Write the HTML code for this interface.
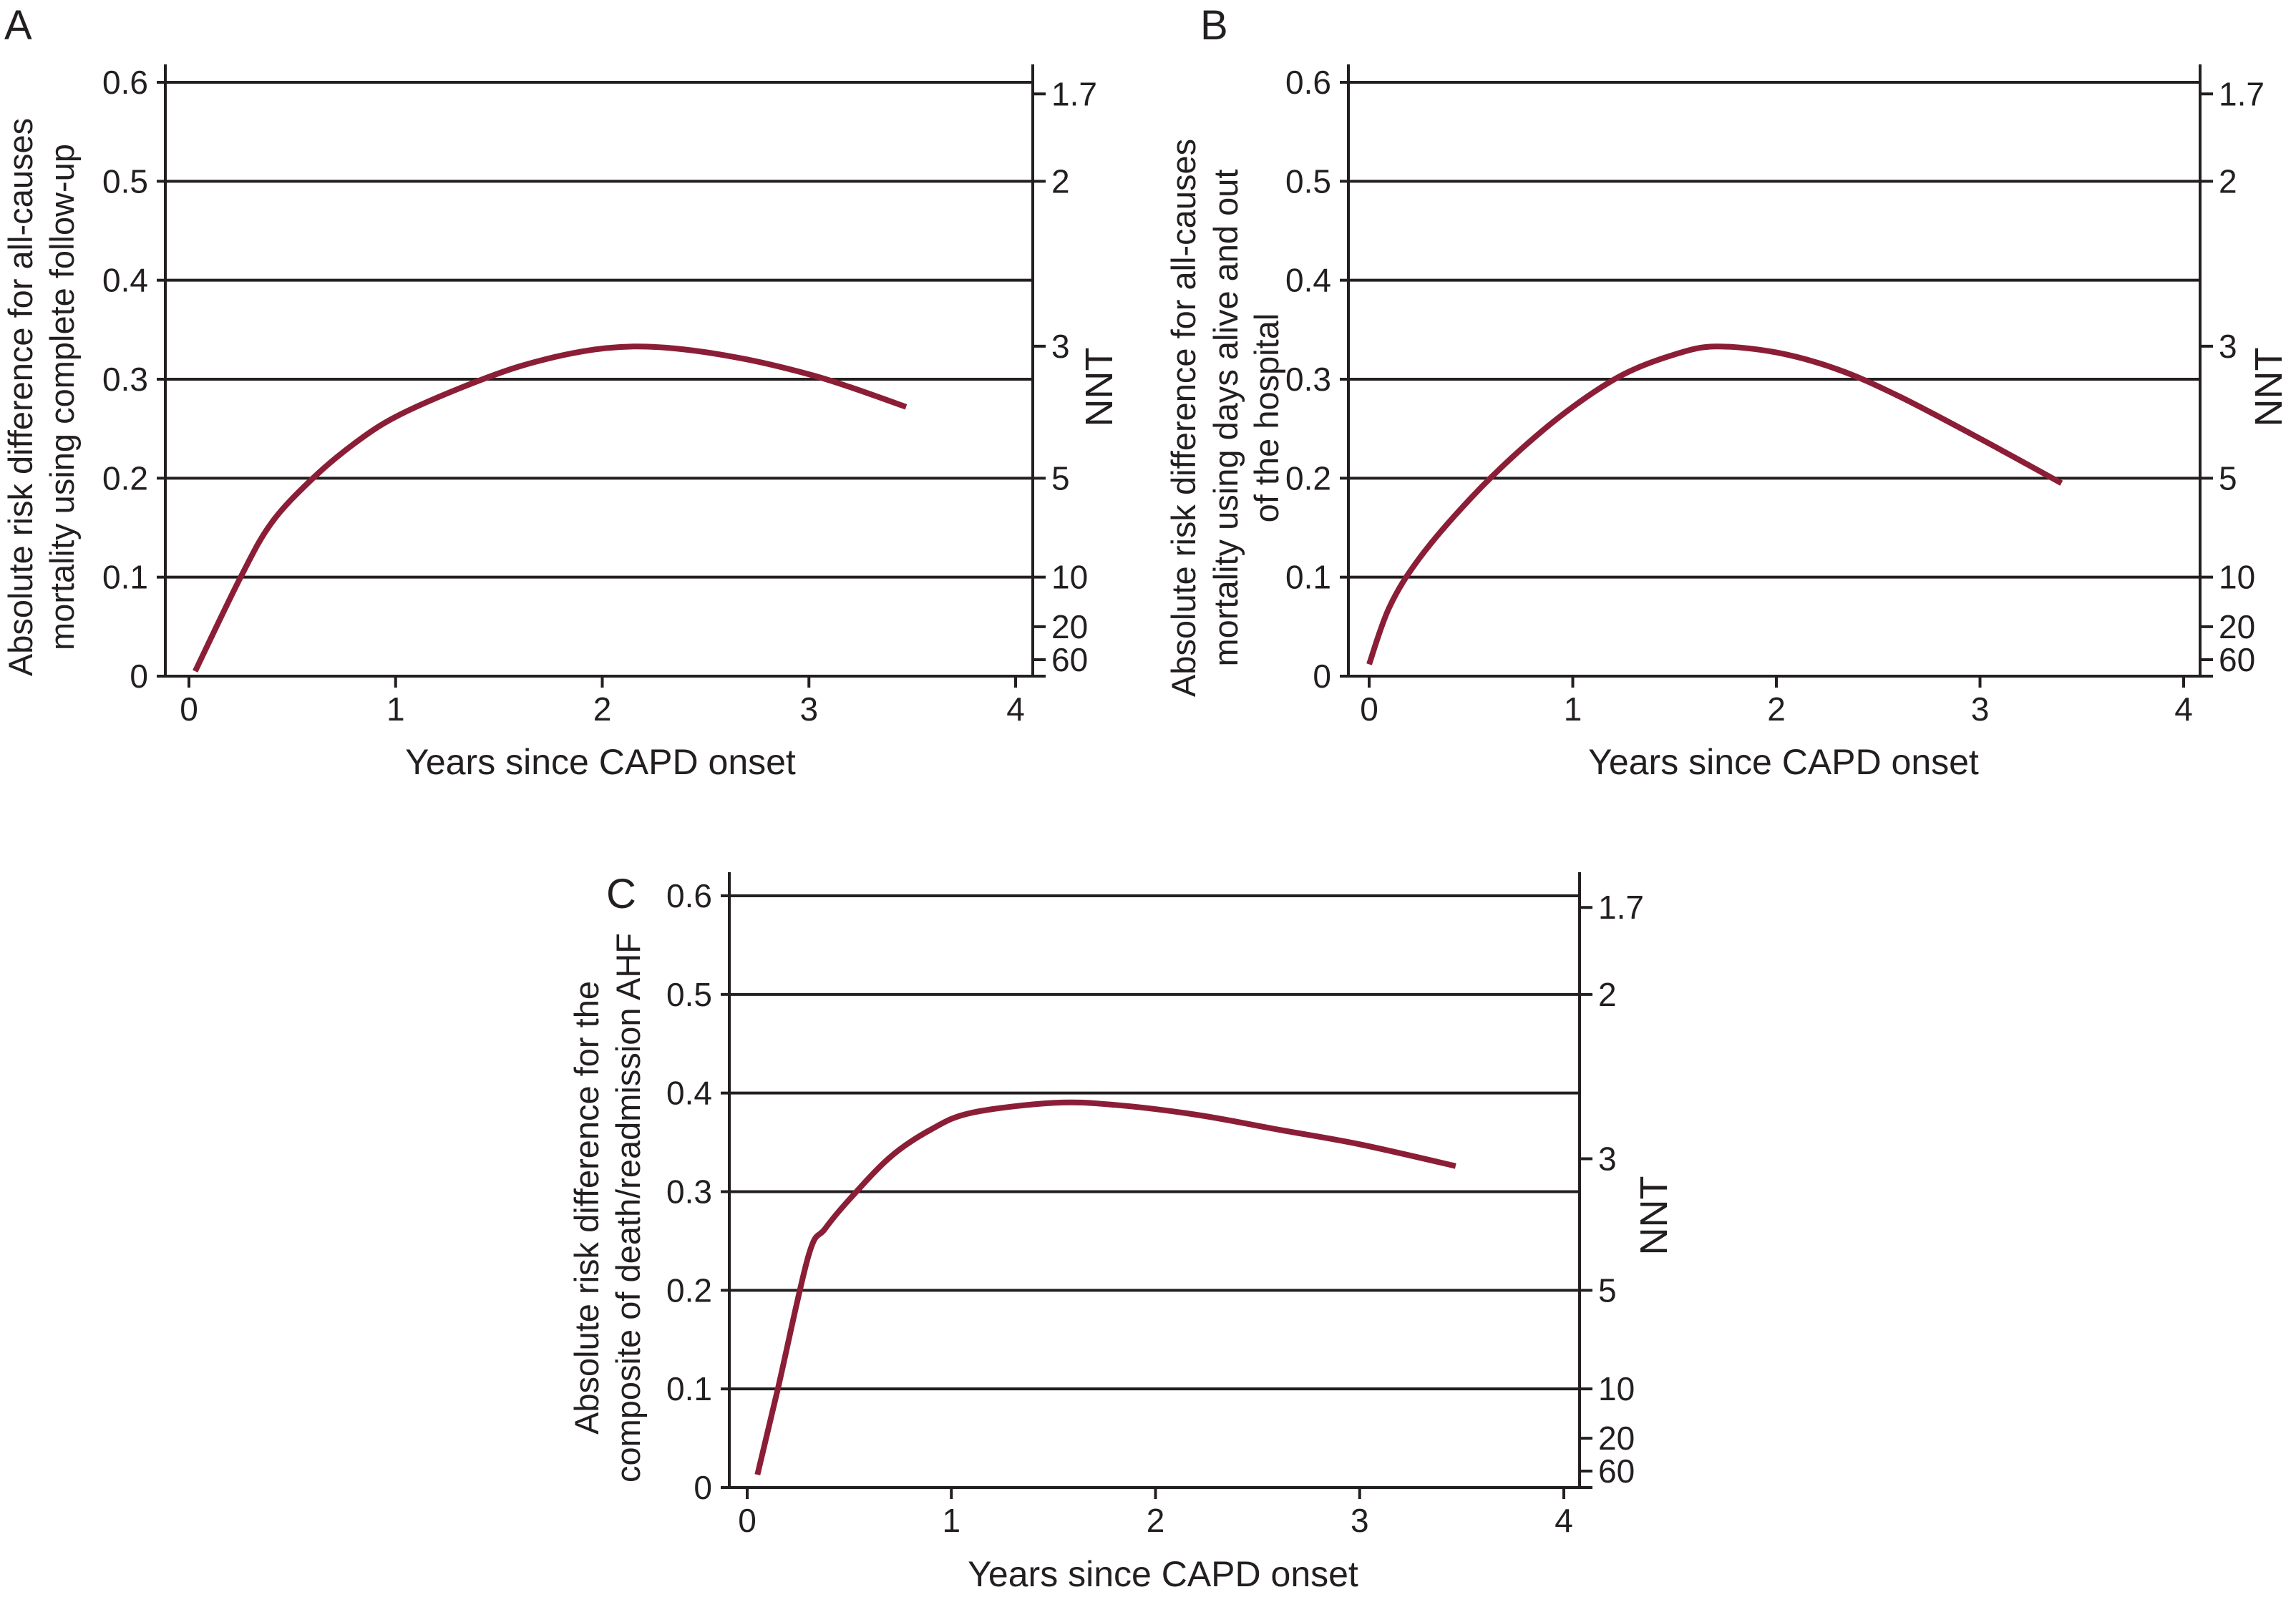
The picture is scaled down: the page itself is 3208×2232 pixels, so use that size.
<!DOCTYPE html>
<html><head><meta charset="utf-8"><style>
html,body{margin:0;padding:0;background:#fff;}
svg{display:block;}
text{fill:#231f20;}
.tick{font-family:"Liberation Sans Narrow","Liberation Sans",sans-serif;font-size:46px;}
.ttl{font-family:"Liberation Sans",sans-serif;font-size:47px;}
.nnt{font-family:"Liberation Sans",sans-serif;font-size:54px;}
.xt{font-family:"Liberation Sans Narrow","Liberation Sans",sans-serif;font-size:50px;}
.let{font-family:"Liberation Sans",sans-serif;font-size:58px;}
</style></head><body>
<svg id="fig" width="3208" height="2232" viewBox="0 0 3208 2232" xmlns="http://www.w3.org/2000/svg"></svg>
<script>
const yTicks=[0,0.1,0.2,0.3,0.4,0.5,0.6];
const xTicks=[0,1,2,3,4];
const nntTicks=[1.7,2,3,5,10,20,60];
const seriesAx=[0.03,0.25,0.4,0.6,0.8,1.0,1.3,1.6,1.9,2.15,2.4,2.7,3.0,3.2,3.47];
const seriesAy=[0.005,0.1,0.155,0.2,0.235,0.262,0.29,0.313,0.328,0.333,0.33,0.32,0.305,0.292,0.272];
const seriesBx=[0.0,0.1,0.25,0.5,0.75,1.0,1.25,1.5,1.7,2.0,2.3,2.6,3.0,3.4];
const seriesBy=[0.012,0.07,0.12,0.18,0.23,0.272,0.305,0.325,0.333,0.327,0.31,0.283,0.24,0.195];
const seriesCx=[0.05,0.15,0.3,0.38,0.5,0.7,0.9,1.1,1.5,1.8,2.2,2.6,3.0,3.47];
const seriesCy=[0.013,0.1,0.235,0.262,0.292,0.335,0.363,0.38,0.39,0.388,0.378,0.363,0.348,0.326];

const NS="http://www.w3.org/2000/svg";
const svg=document.getElementById('fig');
function el(tag,attrs,parent){const e=document.createElementNS(NS,tag);for(const k in attrs)e.setAttribute(k,attrs[k]);(parent||svg).appendChild(e);return e;}
function smooth(pts){
  let d='M'+pts[0][0].toFixed(1)+' '+pts[0][1].toFixed(1);
  for(let i=0;i<pts.length-1;i++){
    const p0=pts[Math.max(0,i-1)],p1=pts[i],p2=pts[i+1],p3=pts[Math.min(pts.length-1,i+2)];
    const c1=[p1[0]+(p2[0]-p0[0])/6,p1[1]+(p2[1]-p0[1])/6];
    const c2=[p2[0]-(p3[0]-p1[0])/6,p2[1]-(p3[1]-p1[1])/6];
    d+='C'+c1[0].toFixed(1)+' '+c1[1].toFixed(1)+' '+c2[0].toFixed(1)+' '+c2[1].toFixed(1)+' '+p2[0].toFixed(1)+' '+p2[1].toFixed(1);
  }
  return d;
}

const panels=[
 {id:'a',L:231,R:1443,X0:264,X4:1419,Y0:945,Y6:115,top:90,xs:seriesAx,ys:seriesAy,
  letter:'A',lx:6,ly:55,titles:['Absolute risk difference for all-causes','mortality using complete follow-up'],tx:[29,87],ty:555,
  nx:1535,ny:541,xtx:839,xty:1064},
 {id:'b',L:1884,R:3074,X0:1913,X4:3051,Y0:945,Y6:115,top:90,xs:seriesBx,ys:seriesBy,
  letter:'B',lx:1677,ly:55,titles:['Absolute risk difference for all-causes','mortality using days alive and out','of the hospital'],tx:[1654,1713,1770],ty:584,
  nx:3169,ny:541,xtx:2492,xty:1064},
 {id:'c',L:1019,R:2207,X0:1044,X4:2185,Y0:2079,Y6:1252,top:1219,xs:seriesCx,ys:seriesCy,
  letter:'C',lx:847,ly:1269,titles:['Absolute risk difference for the','composite of death/readmission AHF'],tx:[820,878],ty:1688,
  nx:2310,ny:1699,xtx:1625,xty:2199}
];

panels.forEach(p=>{
  const g=el('g',{});
  
  
  const sx=v=>p.X0+(p.X4-p.X0)*v/4;
  const sy=v=>p.Y0+(p.Y6-p.Y0)*v/0.6;
  yTicks.forEach(t=>{
    if(t>0){const l=el('line',{x1:p.L,x2:p.R,y1:sy(t),y2:sy(t),stroke:'#231f20','stroke-width':4},g);
      }
    const tk=el('line',{x1:p.L-12,x2:p.L,y1:sy(t),y2:sy(t),stroke:'#231f20','stroke-width':4},g);
    
    const tx=el('text',{x:p.L-24,y:sy(t)+16,'text-anchor':'end','class':'tick'},g);
    tx.textContent=String(t);
    
  });
  const la=el('line',{x1:p.L,x2:p.L,y1:p.top,y2:p.Y0+2,stroke:'#231f20','stroke-width':4},g);
  
  const ra=el('line',{x1:p.R,x2:p.R,y1:p.top,y2:p.Y0+2,stroke:'#231f20','stroke-width':4},g);
  
  const xa=el('line',{x1:p.L-12,x2:p.R+18,y1:p.Y0,y2:p.Y0,stroke:'#231f20','stroke-width':4},g);
  
  xTicks.forEach(t=>{
    const tk=el('line',{x1:sx(t),x2:sx(t),y1:p.Y0,y2:p.Y0+16,stroke:'#231f20','stroke-width':4},g);
    
    const tx=el('text',{x:sx(t),y:p.Y0+62,'text-anchor':'middle','class':'tick'},g);
    tx.textContent=String(t);
    
  });
  nntTicks.forEach(n=>{
    const y=sy(1/n);
    const tk=el('line',{x1:p.R,x2:p.R+18,y1:y,y2:y,stroke:'#231f20','stroke-width':4},g);
    
    const tx=el('text',{x:p.R+26,y:y+16,'class':'tick'},g);
    tx.textContent=String(n);
    
  });
  const pts=p.xs.map((x,i)=>[sx(x),sy(p.ys[i])]);
  const path=el('path',{d:smooth(pts),fill:'none',stroke:'#8b1e36','stroke-width':8,'stroke-linejoin':'round','stroke-linecap':'butt'},g);
  
  p.titles.forEach((s,i)=>{
    const a={x:p.tx[i],y:p.ty,'text-anchor':'middle','class':'ttl',transform:'rotate(-90 '+p.tx[i]+' '+p.ty+')',dy:'16'};
    const tx=el('text',a,g);tx.textContent=s;
    
  });
  const nt=el('text',{x:p.nx,y:p.ny,'text-anchor':'middle','class':'nnt',transform:'rotate(-90 '+p.nx+' '+p.ny+')',dy:'19'},g);
  nt.textContent='NNT';
  
  const xt=el('text',{x:p.xtx,y:p.xty+18,'text-anchor':'middle','class':'xt'},g);
  xt.textContent='Years since CAPD onset';
  
  const lt=el('text',{x:p.lx,y:p.ly,'class':'let'},g);
  lt.textContent=p.letter;
  
});
</script>
</body></html>
